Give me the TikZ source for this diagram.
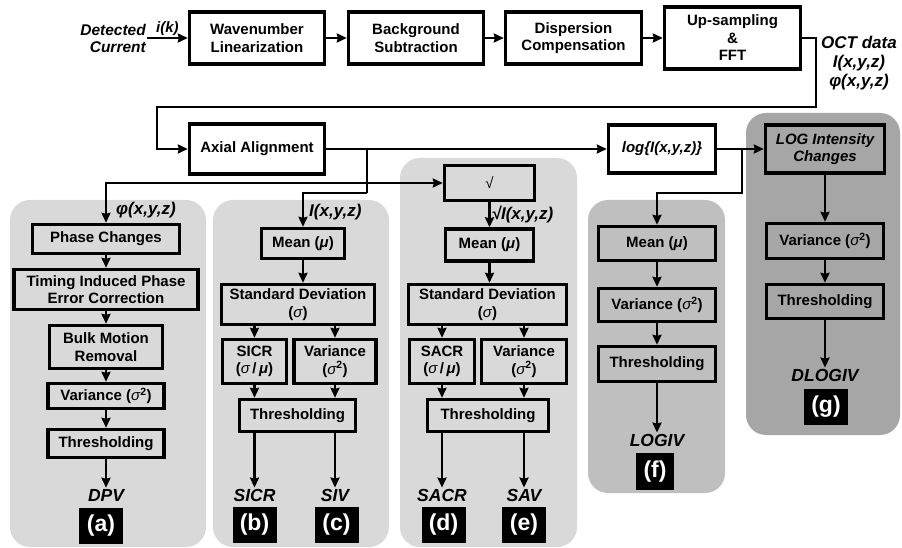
\documentclass[tikz,border=0pt]{standalone}
\usepackage{fontspec}
\setmainfont{Liberation Sans}
\usetikzlibrary{arrows.meta, calc}

\definecolor{panelA}{gray}{0.85}
\definecolor{panelF}{gray}{0.75}
\definecolor{panelG}{gray}{0.65}

\newcommand{\sgm}{{\mdseries\itshape σ}}
\newcommand{\mub}{{\itshape μ}}

\tikzset{
  blk/.style={draw, line width=3.4pt, align=center, inner sep=1pt,
    font=\bfseries\fontsize{15}{17.5}\selectfont},
  iblk/.style={blk, font=\bfseries\itshape\fontsize{15}{17.5}\selectfont},
  lbl/.style={inner sep=1pt, font=\bfseries\itshape\fontsize{17}{19}\selectfont},
  outlbl/.style={inner sep=1pt, font=\bfseries\itshape\fontsize{17.5}{19}\selectfont},
  tag/.style={fill=black, text=white, inner sep=0pt, minimum width=44pt,
    minimum height=36pt, font=\bfseries\fontsize{23}{25}\selectfont},
  panel/.style={rounded corners=20pt},
  wire/.style={line width=2.4pt},
}

\begin{document}
\begin{tikzpicture}[x=1pt, y=-1pt, >={Stealth[length=10pt, width=9pt, inset=1pt]}]
  \useasboundingbox (0,0) rectangle (902,548);
  % grey panels behind the branches
  \fill[panelA, panel] (10,200) rectangle (206,547);
  \fill[panelA, panel] (213,200) rectangle (389,547);
  \fill[panelA, panel] (400,158) rectangle (577,547);
  \fill[panelF, panel] (588,200) rectangle (725,493);
  \fill[panelG, panel] (746,113) rectangle (900,435);

  % top row
  \node[lbl, font=\bfseries\itshape\fontsize{15.5}{17}\selectfont, align=right, anchor=east] (det) at (147,38) {Detected\\Current};
  \node[blk, fill=white, minimum width=135pt, minimum height=52pt] (wave) at (257,38) {Wavenumber\\Linearization};
  \node[blk, fill=white, minimum width=135pt, minimum height=52pt] (bg) at (416,38) {Background\\Subtraction};
  \node[blk, fill=white, minimum width=136pt, minimum height=52pt] (disp) at (573.5,38) {Dispersion\\Compensation};
  \node[blk, fill=white, minimum width=136pt, minimum height=62pt] (fft) at (732.5,38) {Up-sampling\\\&\\FFT};
  \node[lbl, align=center, font=\bfseries\itshape\fontsize{17}{19}\selectfont] (oct) at (859,63) {OCT data\\I(x,y,z)\\φ(x,y,z)};

  \draw[wire,->] (det.east) -- (det.east -| wave.west) node[midway, above, lbl, font=\bfseries\itshape\fontsize{15}{17}\selectfont]{i(k)};
  \foreach \a/\b in {wave/bg, bg/disp, disp/fft}
    \draw[wire,->] (\a) -- (\b);

  % second row
  \node[blk, fill=white, minimum width=135pt, minimum height=50pt] (axial) at (257,149) {Axial Alignment};
  \node[iblk, fill=white, minimum width=107pt, minimum height=48pt] (log) at (662,149) {log\{I(x,y,z)\}};
  \node[iblk, fill=panelG, minimum width=119pt, minimum height=48pt] (logint) at (825,149) {LOG Intensity\\Changes};

  \coordinate (octR) at (816,38);
  \coordinate (octB) at (816,107);
  \coordinate (octL) at (157,107);
  \draw[wire,->] (fft.east) -- (octR) -- (octB) -- (octL) |- (axial.west);
  \draw[wire,->] (axial.east) -- (log.west);
  \draw[wire,->] (log.east) -- (logint.west);

  % (a) phase branch
  \node[blk, fill=panelA, minimum width=147pt, minimum height=29pt] (phase) at (106,239) {Phase Changes};
  \node[blk, fill=panelA, minimum width=184pt, minimum height=40pt] (timing) at (106,289.5) {Timing Induced Phase\\Error Correction};
  \node[blk, fill=panelA, minimum width=113pt, minimum height=43pt] (bulk) at (106,347) {Bulk Motion\\Removal};
  \node[blk, fill=panelA, minimum width=116pt, minimum height=25pt] (vara) at (106,396) {Variance (\sgm\textsuperscript{2})};
  \node[blk, fill=panelA, minimum width=116pt, minimum height=28pt] (thra) at (106,443.5) {Thresholding};
  \node[outlbl] (dpv) at (106,495) {DPV};
  \node[tag] (taga) at (101,525.5) {(a)};
  \node[lbl, anchor=west] (phi) at (115,210) {φ(x,y,z)};
  \foreach \a/\b in {phase/timing, timing/bulk, bulk/vara, vara/thra, thra/dpv}
    \draw[wire,->] (\a) -- (\b);

  % (b),(c) intensity branch
  \node[blk, fill=panelA, minimum width=83pt, minimum height=30pt] (meanb) at (303,243.5) {Mean (\mub)};
  \node[blk, fill=panelA, minimum width=153pt, minimum height=40pt] (sdb) at (298,304.5) {Standard Deviation\\(\sgm)};
  \node[blk, fill=panelA, minimum width=64pt, minimum height=44pt] (sicr) at (254.5,361.5) {SICR\\(\sgm\,/\,\mub)};
  \node[blk, fill=panelA, minimum width=82pt, minimum height=44pt] (varb) at (335,361.5) {Variance\\(\sgm\textsuperscript{2})};
  \node[blk, fill=panelA, minimum width=116pt, minimum height=32pt] (thrb) at (297.5,415.5) {Thresholding};
  \node[outlbl] (sicrout) at (254.5,495) {SICR};
  \node[outlbl] (sivout) at (335,495) {SIV};
  \node[tag] (tagb) at (254.5,525) {(b)};
  \node[tag] (tagc) at (336.5,525) {(c)};
  \node[lbl, anchor=west] (ilbl) at (308,212) {I(x,y,z)};
  \draw[wire,->] (meanb.south) -- (meanb.south |- sdb.north);
  \foreach \n/\o in {sicr/sicrout, varb/sivout} {
    \draw[wire,->] (sdb.south -| \n) -- (\n);
    \draw[wire,->] (\n) -- (\n |- thrb.north);
    \draw[wire,->] (thrb.south -| \n) -- (\o);
  }

  % (d),(e) amplitude branch
  \node[blk, fill=panelA, minimum width=90pt, minimum height=35pt] (sqrt) at (489.5,183) {\mdseries √};
  \node[blk, fill=panelA, minimum width=88pt, minimum height=32pt] (meand) at (489.5,245) {Mean (\mub)};
  \node[blk, fill=panelA, minimum width=158pt, minimum height=40pt] (sdd) at (487.5,304.5) {Standard Deviation\\(\sgm)};
  \node[blk, fill=panelA, minimum width=65pt, minimum height=44pt] (sacr) at (442,361.5) {SACR\\(\sgm\,/\,\mub)};
  \node[blk, fill=panelA, minimum width=85pt, minimum height=44pt] (vard) at (524,361.5) {Variance\\(\sgm\textsuperscript{2})};
  \node[blk, fill=panelA, minimum width=121pt, minimum height=32pt] (thrd) at (488,415.5) {Thresholding};
  \node[outlbl] (sacrout) at (442,495) {SACR};
  \node[outlbl] (savout) at (524,495) {SAV};
  \node[tag] (tagd) at (443.5,525) {(d)};
  \node[tag] (tage) at (524,525) {(e)};
  \draw[wire,->] (sqrt) -- (meand) node[midway, right, lbl]{√I(x,y,z)};
  \draw[wire,->] (meand.south) -- (meand.south |- sdd.north);
  \foreach \n/\o in {sacr/sacrout, vard/savout} {
    \draw[wire,->] (sdd.south -| \n) -- (\n);
    \draw[wire,->] (\n) -- (\n |- thrd.north);
    \draw[wire,->] (thrd.south -| \n) -- (\o);
  }

  % (f) log intensity branch
  \node[blk, fill=panelF, minimum width=117pt, minimum height=34pt] (meanf) at (657,243.5) {Mean (\mub)};
  \node[blk, fill=panelF, minimum width=117pt, minimum height=33pt] (varf) at (657,305) {Variance (\sgm\textsuperscript{2})};
  \node[blk, fill=panelF, minimum width=117pt, minimum height=35pt] (thrf) at (657,364) {Thresholding};
  \node[outlbl] (logiv) at (657,440) {LOGIV};
  \node[tag, minimum width=38pt, minimum height=37pt] (tagf) at (655,471.5) {(f)};
  \foreach \a/\b in {meanf/varf, varf/thrf, thrf/logiv}
    \draw[wire,->] (\a) -- (\b);

  % (g) log intensity changes branch
  \node[blk, fill=panelG, minimum width=117pt, minimum height=35pt] (varg) at (825,241) {Variance (\sgm\textsuperscript{2})};
  \node[blk, fill=panelG, minimum width=117pt, minimum height=34pt] (thrg) at (825,301.5) {Thresholding};
  \node[outlbl] (dlogiv) at (825,375) {DLOGIV};
  \node[tag] (tagg) at (826,407) {(g)};
  \foreach \a/\b in {logint/varg, varg/thrg, thrg/dlogiv}
    \draw[wire,->] (\a) -- (\b);

  % branching off the axial alignment output
  \coordinate (jA) at (367,149);
  \coordinate (jB) at (367,183);
  \coordinate (jC) at (367,193);
  \draw[wire] (jA) -- (jC);
  \draw[wire,->] (jB) -| (phase.north);
  \draw[wire,->] (jB) -- (sqrt.west);
  \draw[wire,->] (jC) -| (meanb.north);
  % branching off the log output
  \coordinate (jD) at (742,149);
  \coordinate (jE) at (742,193);
  \draw[wire,->] (jD) -- (jE) -| (meanf.north);
\end{tikzpicture}
\end{document}
